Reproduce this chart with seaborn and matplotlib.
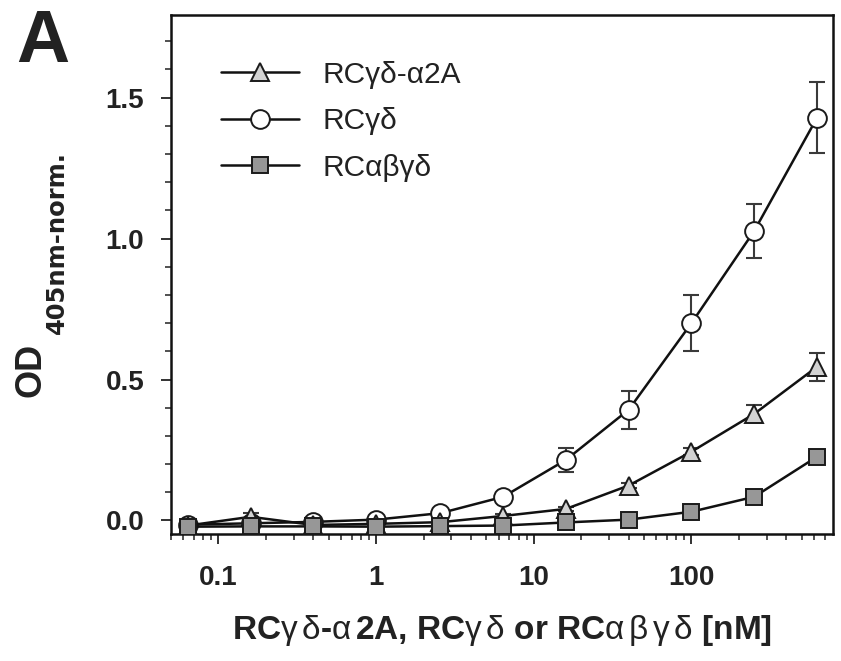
import numpy as np
import pandas as pd
import matplotlib
matplotlib.use("Agg")
import matplotlib.pyplot as plt
import seaborn as sns
from matplotlib.ticker import MultipleLocator, LogLocator, NullFormatter

# ---- data ----
conc = [0.064, 0.16, 0.4, 1.0, 2.56, 6.4, 16, 40, 100, 250, 625]
a2a_mean = [-0.018, 0.013, -0.016, -0.012, -0.006, 0.016, 0.041, 0.124, 0.244, 0.378, 0.545]
a2a_err = [0.005, 0.012, 0.005, 0.005, 0.005, 0.008, 0.008, 0.01, 0.012, 0.03, 0.05]
gd_mean = [-0.015, -0.010, -0.005, 0.003, 0.026, 0.084, 0.215, 0.393, 0.700, 1.027, 1.428]
gd_err = [0.005, 0.005, 0.005, 0.005, 0.006, 0.008, 0.043, 0.067, 0.099, 0.097, 0.126]
abgd_mean = [-0.022, -0.021, -0.021, -0.022, -0.020, -0.018, -0.007, 0.003, 0.031, 0.084, 0.226]
abgd_err = [0.004, 0.004, 0.004, 0.004, 0.004, 0.004, 0.004, 0.005, 0.006, 0.008, 0.01]

labels = ["RCγδ-α2A", "RCγδ", "RCαβγδ"]
x_ticks = [0.1, 1, 10, 100]
x_ticklabels = ["0.1", "1", "10", "100"]
y_ticks = [0.0, 0.5, 1.0, 1.5]
y_ticklabels = ["0.0", "0.5", "1.0", "1.5"]

sns.set_theme(style="ticks")
plt.rcParams["font.family"] = ["Liberation Sans", "DejaVu Sans"]
plt.rcParams["mathtext.fontset"] = "custom"
plt.rcParams["mathtext.rm"] = "Liberation Sans"
plt.rcParams["mathtext.it"] = "Liberation Sans:italic"
plt.rcParams["mathtext.bf"] = "Liberation Sans:bold"

fig = plt.figure(figsize=(8.41, 6.61), dpi=100)
ax = fig.add_axes([171 / 841, 1 - 534 / 661, (833 - 171) / 841, (534 - 15) / 661])

series = [
    (labels[1], gd_mean, gd_err, dict(marker="o", markersize=13.5, markerfacecolor="white"), 3),
    (labels[0], a2a_mean, a2a_err, dict(marker="^", markersize=13.5, markerfacecolor="#d2d2d2"), 4),
    (labels[2], abgd_mean, abgd_err, dict(marker="s", markersize=11.5, markerfacecolor="#979797"), 5),
]

handles = {}
for name, m, e, mk, z in series:
    df = pd.DataFrame({"conc": conc, "od": m})
    ax.errorbar(conc, m, yerr=e, fmt="none", ecolor="#3a3a3a", elinewidth=1.5,
                capsize=6, capthick=1.5, zorder=z - 0.5)
    sns.lineplot(data=df, x="conc", y="od", ax=ax, color="#111111", linewidth=1.8,
                 markeredgecolor="#1a1a1a", markeredgewidth=1.4, zorder=z, label=name,
                 legend=False, **mk)
    handles[name] = ax.lines[-1]

ax.set_xscale("log")
ax.set_xlim(0.05, 790)
ax.set_ylim(-0.048, 1.793)

ax.set_xticks(x_ticks)
ax.set_xticklabels(x_ticklabels)
ax.xaxis.set_minor_locator(LogLocator(base=10, subs=np.arange(2, 10)))
ax.xaxis.set_minor_formatter(NullFormatter())
ax.set_yticks(y_ticks)
ax.set_yticklabels(y_ticklabels)
ax.yaxis.set_minor_locator(MultipleLocator(0.1))

for s in ax.spines.values():
    s.set_linewidth(1.8)
    s.set_color("#111111")
    s.set_visible(True)

ax.tick_params(axis="both", which="major", length=7.2, width=1.3, color="#222222",
               labelsize=20, direction="out")
ax.tick_params(axis="x", which="major", pad=15)
ax.tick_params(axis="y", which="major", pad=12)
ax.tick_params(axis="both", which="minor", length=4.3, width=1.1, color="#222222",
               direction="out")
ax.tick_params(top=False, right=False, which="both")
for lab in ax.get_xticklabels() + ax.get_yticklabels():
    lab.set_fontweight("bold")
    lab.set_color("#222222")

ax.set_xlabel(r"RC$\mathrm{\gamma\,\delta}$-$\mathrm{\alpha\,}$2A, RC$\mathrm{\gamma\,\delta}$ or RC$\mathrm{\alpha\,\beta\,\gamma\,\delta}$ [nM]",
              fontsize=24, fontweight="bold", color="#222222", labelpad=16)
ax.set_ylabel("")

# y label: OD with subscript
fig.text(31 / 841, 1 - 370 / 661, "OD", rotation=90, fontsize=26, fontweight="bold",
         color="#222222", ha="center", va="center")
fig.text(57 / 841, 1 - 334 / 661, "405nm-norm.", rotation=90, fontsize=17.5,
         fontweight="bold", family="DejaVu Sans", color="#222222", ha="center", va="bottom")

# panel label
fig.text(16 / 841, 1 - 8 / 661, "A", fontsize=53, fontweight="bold", color="#222222",
         ha="left", va="top")

leg = ax.legend([handles[labels[0]], handles[labels[1]], handles[labels[2]]], labels,
                loc="upper left", bbox_to_anchor=(0.0755, 0.912), frameon=False,
                fontsize=21.5, handlelength=2.6, handletextpad=0.8, labelspacing=0.62,
                borderpad=0, borderaxespad=0)
for t in leg.get_texts():
    t.set_color("#222222")

fig.savefig("out.png", dpi=100, facecolor="white")
